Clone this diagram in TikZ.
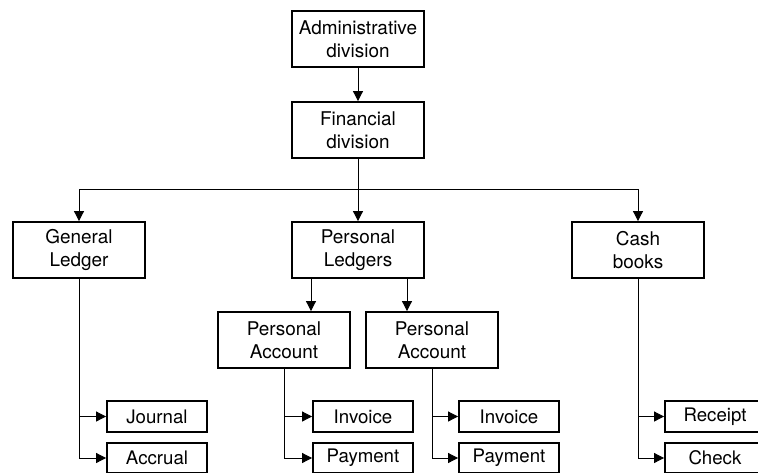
\documentclass[tikz,border=0pt]{standalone}
\usepackage{fontspec}
\setmainfont{TeX Gyre Heros}
\usetikzlibrary{arrows.meta, positioning}
\tikzset{
    unit/.style={rectangle, draw=black, line width=1.4pt, minimum width=99pt, minimum height=42pt, align=center, inner sep=0pt, font=\fontsize{14.2}{17}\selectfont},
    leaf/.style={rectangle, draw=black, line width=1.4pt, minimum width=75pt, minimum height=23pt, align=center, inner sep=0pt, font=\fontsize{14}{17}\selectfont},
    arrow/.style={line width=0.7pt, -{Triangle[length=7.5pt, width=7.5pt]}},
    link/.style={line width=0.7pt}
}
\begin{document}
\begin{tikzpicture}[x=0.75pt, y=-0.75pt]
    \clip (0,0) rectangle (758,472);
    % Top of the tree
    \node[unit] (admin) at (358,39) {Administrative\\division};
    \node[unit] (fin) at (358,130) {Financial\\division};
    \coordinate (split) at (358,189);

    % Second level
    \node[unit] (gl) at (79,250) {General\\Ledger};
    \node[unit] (pl) at (358,250) {Personal\\Ledgers};
    \node[unit] (cash) at (638,250) {Cash\\books};
    \node[unit] (pa1) at (284,340) {Personal\\Account};
    \node[unit] (pa2) at (432,340) {Personal\\Account};

    % Leaves
    \node[leaf] (jour) at (157,416.5) {Journal};
    \node[leaf] (accr) at (157,458) {Accrual};
    \node[leaf] (inv1) at (363,416.5) {Invoice};
    \node[leaf] (pay1) at (363,458) {Payment};
    \node[leaf] (inv2) at (509,416.5) {Invoice};
    \node[leaf] (pay2) at (509,458) {Payment};
    \node[leaf] (rec) at (715,416.5) {Receipt};
    \node[leaf] (chk) at (715,458) {Check};

    % Connectors
    \draw[arrow] (admin) -- (fin);
    \draw[link] (fin.south) -- (split);
    \draw[arrow] (split) -| (gl.north);
    \draw[arrow] (split) -- (pl.north);
    \draw[arrow] (split) -| (cash.north);
    \draw[arrow] ([xshift=-35.25pt]pl.south) -- ([xshift=-35.25pt]pl.south |- pa1.north);
    \draw[arrow] ([xshift=36.75pt]pl.south) -- ([xshift=36.75pt]pl.south |- pa2.north);
    \draw[arrow] (gl.south) |- (jour.west);
    \draw[arrow] (gl.south) |- (accr.west);
    \draw[arrow] (pa1.south) |- (inv1.west);
    \draw[arrow] (pa1.south) |- (pay1.west);
    \draw[arrow] (pa2.south) |- (inv2.west);
    \draw[arrow] (pa2.south) |- (pay2.west);
    \draw[arrow] (cash.south) |- (rec.west);
    \draw[arrow] (cash.south) |- (chk.west);
\end{tikzpicture}
\end{document}
